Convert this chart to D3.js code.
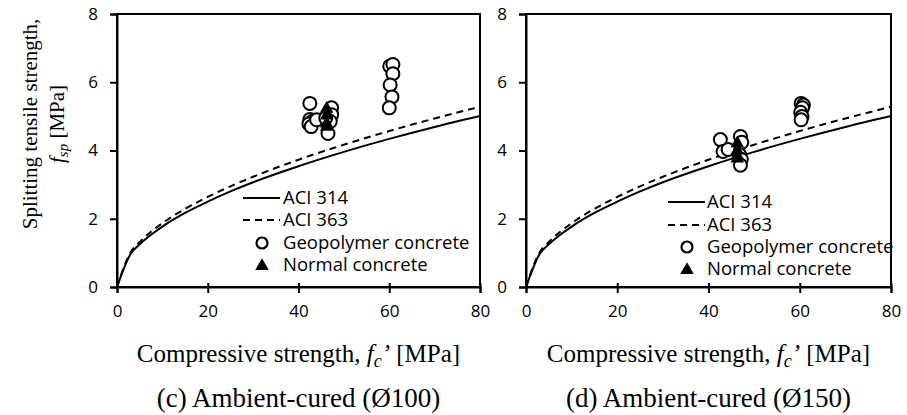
<!DOCTYPE html>
<html><head><meta charset="utf-8">
<script src="https://cdn.jsdelivr.net/npm/d3@7"></script>
<style>body{margin:0;background:#fff}svg{display:block}</style>
</head><body>
<svg id="c" width="907" height="415"></svg>
<script>
const xTicks = [0, 20, 40, 60, 80];
const yTicks = [0, 2, 4, 6, 8];
// design curves (ACI 314, ACI 363)
const curveFc = [0, 3, 5, 7.5, 10, 15, 20, 25, 30, 40, 50, 60, 70, 80];
const aci314 = [0, 0.97, 1.25, 1.53, 1.77, 2.17, 2.50, 2.80, 3.07, 3.54, 3.96, 4.34, 4.69, 5.01];
const aci363 = [0, 1.02, 1.32, 1.62, 1.87, 2.29, 2.64, 2.95, 3.23, 3.73, 4.17, 4.57, 4.94, 5.28];
// panel (c) Ø100
const geoFcC = [42.5, 42.5, 43.0, 42.3, 42.8, 44.0, 47.3, 47.3, 47.0, 46.5, 46.0, 60.1, 60.8, 60.8, 60.2, 60.6, 60.0];
const geoFspC = [5.38, 4.91, 4.85, 4.78, 4.70, 4.90, 5.25, 5.05, 4.85, 4.50, 4.95, 6.47, 6.52, 6.25, 5.92, 5.57, 5.25];
const nrmFcC = [46.2, 46.2, 46.2, 46.2];
const nrmFspC = [5.25, 5.05, 4.82, 4.72];
// panel (d) Ø150
const geoFcD = [42.6, 43.2, 44.3, 47.0, 47.3, 46.8, 47.2, 47.0, 60.3, 60.8, 60.6, 60.2, 60.5, 60.3];
const geoFspD = [4.32, 3.97, 4.03, 4.41, 4.24, 3.88, 3.74, 3.57, 5.38, 5.33, 5.25, 5.12, 5.00, 4.90];
const nrmFcD = [46.3, 46.3, 46.3, 46.3];
const nrmFspD = [4.24, 4.03, 3.88, 3.79];

const svg = d3.select("#c");
const SANS = "'Open Sans', 'Noto Sans', sans-serif";
const SERIF = "'Liberation Serif', 'DejaVu Serif', serif";

function panel(o) {
  const x = d3.scaleLinear().domain([0, 80]).range([o.x0, o.x1]);
  const y = d3.scaleLinear().domain([0, 8]).range([287, 14]);
  const g = svg.append("g");
  g.append("rect").attr("x", o.x0).attr("y", y(8)).attr("width", o.x1 - o.x0).attr("height", y(0) - y(8))
    .attr("fill", "none").attr("stroke", "#000").attr("stroke-width", 2);
  const xa = g.append("g").attr("transform", `translate(0,${y(0)})`)
    .call(d3.axisBottom(x).tickValues(xTicks).tickSize(6).tickPadding(12));
  xa.selectAll(".tick line").attr("y1", -4).attr("stroke-width", 2);
  const ya = g.append("g").attr("transform", `translate(${o.x0},0)`)
    .call(d3.axisLeft(y).tickValues(yTicks).tickSize(7).tickPadding(12));
  ya.selectAll(".tick line").attr("stroke-width", 2);
  [xa, ya].forEach(a => {
    a.select(".domain").attr("stroke-width", 2);
    a.selectAll("text").attr("font-family", SANS).attr("font-size", 17).attr("fill", "#000");
  });
  const lineFor = vals => d3.line().x((d, i) => x(curveFc[i])).y(d => y(d)).curve(d3.curveMonotoneX)(vals);
  g.append("path").attr("d", lineFor(aci314)).attr("fill", "none").attr("stroke", "#000").attr("stroke-width", 2);
  g.append("path").attr("d", lineFor(aci363)).attr("fill", "none").attr("stroke", "#000").attr("stroke-width", 2)
    .attr("stroke-dasharray", "7,5");
  g.selectAll("circle.geo").data(o.geoFc).enter().append("circle")
    .attr("cx", d => x(d)).attr("cy", (d, i) => y(o.geoFsp[i])).attr("r", 6.5)
    .attr("fill", "#fff").attr("stroke", "#000").attr("stroke-width", 2);
  const tri = d3.symbol().type(d3.symbolTriangle).size(80);
  g.selectAll("path.nrm").data(o.nrmFc).enter().append("path")
    .attr("d", tri).attr("transform", (d, i) => `translate(${x(d)},${y(o.nrmFsp[i]) + 1})`).attr("fill", "#000");
  // legend
  const L = o.leg;
  const lg = g.append("g").attr("font-family", SANS).attr("font-size", 18.5).attr("fill", "#000");
  lg.append("line").attr("x1", L.lx0).attr("x2", L.lx1).attr("y1", L.ys[0]).attr("y2", L.ys[0]).attr("stroke", "#000").attr("stroke-width", 2);
  lg.append("line").attr("x1", L.lx0).attr("x2", L.lx1).attr("y1", L.ys[1]).attr("y2", L.ys[1]).attr("stroke", "#000").attr("stroke-width", 2).attr("stroke-dasharray", "7,5");
  lg.append("circle").attr("cx", L.mx).attr("cy", L.ys[2]).attr("r", 5.5).attr("fill", "#fff").attr("stroke", "#000").attr("stroke-width", 2.2);
  lg.append("path").attr("d", tri).attr("transform", `translate(${L.mx},${L.ys[3] + 1})`).attr("fill", "#000");
  const labels = ["ACI 314", "ACI 363", "Geopolymer concrete", "Normal concrete"];
  labels.forEach((t, i) => lg.append("text").attr("x", L.tx).attr("y", L.ys[i]).attr("dy", "0.35em").text(t));
  // x title
  const xt = g.append("text").attr("x", (o.x0 + o.x1) / 2).attr("y", 362).attr("text-anchor", "middle")
    .attr("font-family", SERIF).attr("font-size", 25);
  xt.append("tspan").text("Compressive strength, ");
  xt.append("tspan").attr("font-style", "italic").text("f");
  xt.append("tspan").attr("font-style", "italic").attr("font-size", 18).attr("dy", 5).text("c");
  xt.append("tspan").attr("font-style", "italic").attr("dy", -5).text("’");
  xt.append("tspan").text(" [MPa]");
  g.append("text").attr("x", (o.x0 + o.x1) / 2).attr("y", 407).attr("text-anchor", "middle")
    .attr("font-family", SERIF).attr("font-size", 27).text(o.caption);
}

panel({x0: 117, x1: 480, geoFc: geoFcC, geoFsp: geoFspC, nrmFc: nrmFcC, nrmFsp: nrmFspC,
  caption: "(c) Ambient-cured (Ø100)",
  leg: {lx0: 243, lx1: 280, mx: 262, tx: 283, ys: [198, 220, 243, 265]}});
panel({x0: 526, x1: 891, geoFc: geoFcD, geoFsp: geoFspD, nrmFc: nrmFcD, nrmFsp: nrmFspD,
  caption: "(d) Ambient-cured (Ø150)",
  leg: {lx0: 668, lx1: 705, mx: 687, tx: 707, ys: [202, 225, 247, 269]}});

// y title
const yt = svg.append("g").attr("transform", "translate(0,124) rotate(-90)").attr("font-family", SERIF).attr("font-size", 21).attr("text-anchor", "middle");
yt.append("text").attr("x", 0).attr("y", 37).text("Splitting tensile strength,");
const y2 = yt.append("text").attr("x", 0).attr("y", 64);
y2.append("tspan").attr("font-style", "italic").text("f");
y2.append("tspan").attr("font-style", "italic").attr("font-size", 15).attr("dy", 4).text("sp");
y2.append("tspan").attr("dy", -4).text(" [MPa]");
</script>
</body></html>
